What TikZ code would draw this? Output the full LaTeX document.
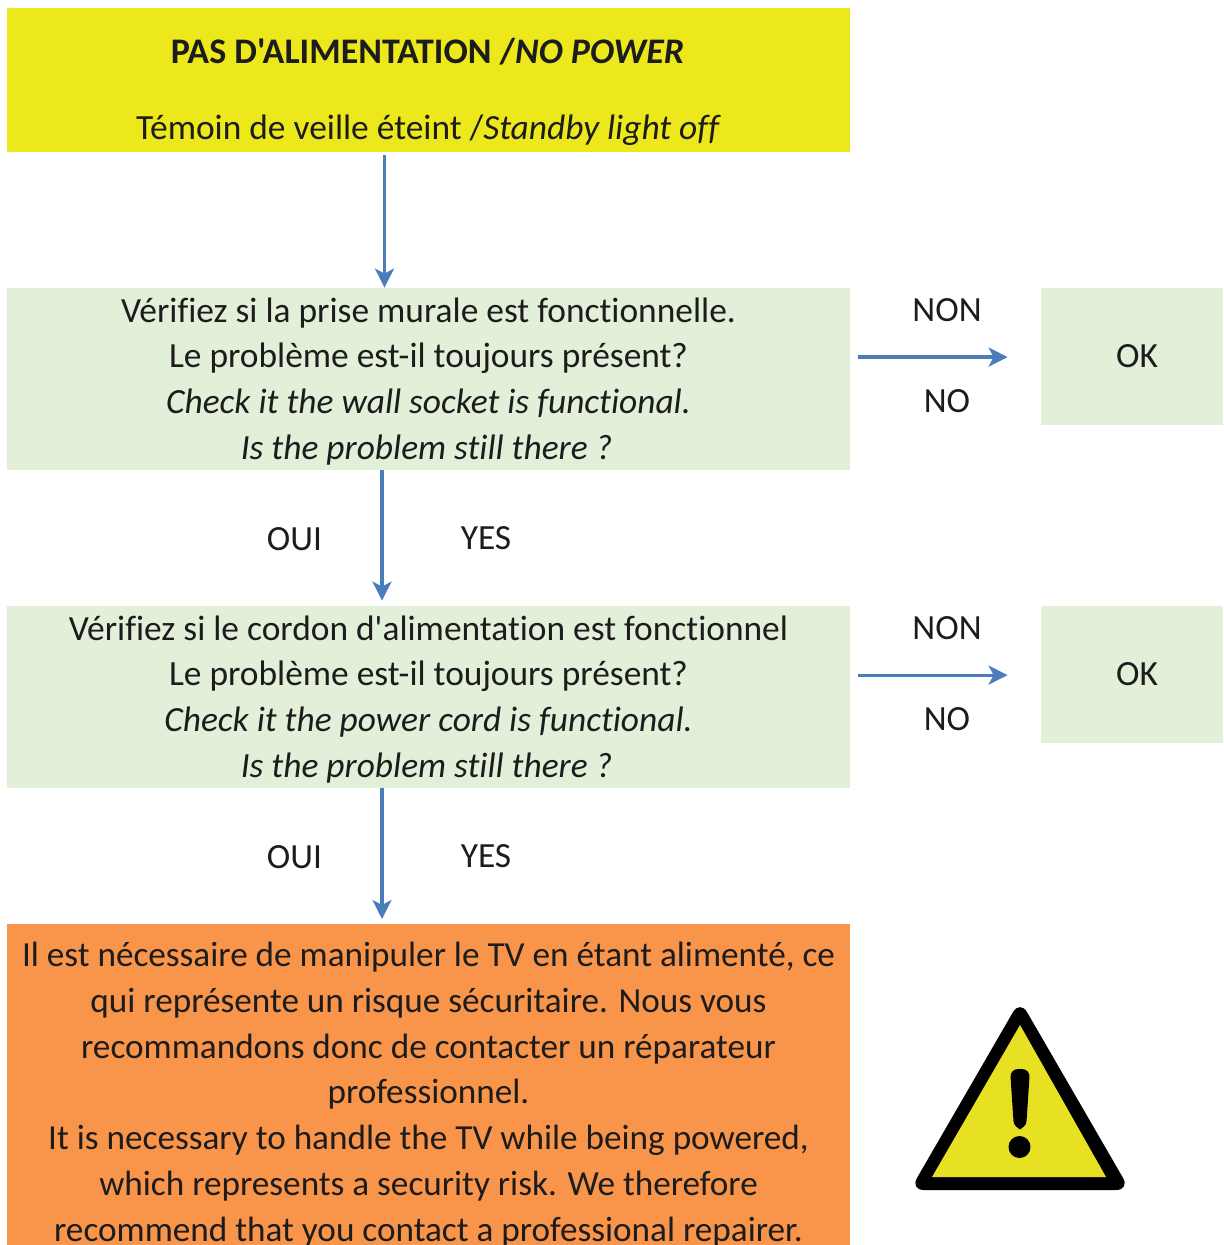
\documentclass[tikz,border=0pt]{standalone}
\usepackage{fontspec}
\setmainfont[Ligatures={TeXOff,NoCommon}]{Carlito}
\usetikzlibrary{arrows.meta}
\definecolor{headyellow}{HTML}{EDE81C}
\definecolor{checkgreen}{HTML}{E2EFD9}
\definecolor{warnorange}{HTML}{F8954A}
\definecolor{flowblue}{HTML}{4A7EBB}
\definecolor{signyellow}{HTML}{E8E022}
\definecolor{inktext}{HTML}{1C1C1C}
\tikzset{
  txt/.style={text=inktext, inner sep=0pt, align=center, font=\fontsize{17.7}{22.85}\selectfont},
  checkbox/.style={txt, fill=checkgreen, minimum width=421.5pt, minimum height=91pt},
  okbox/.style={txt, fill=checkgreen, minimum width=91pt, minimum height=68.5pt},
  flow/.style={-{Stealth[length=9.5pt,width=9.5pt,inset=2.5pt]}, flowblue, line width=1.6pt}
}
\begin{document}
\begin{tikzpicture}[x=0.5pt, y=-0.5pt]
\useasboundingbox (0,0) rectangle (1223,1245);
\clip (0,0) rectangle (1223,1245);

\node[fill=headyellow, minimum width=421.5pt, minimum height=72pt, inner sep=0pt] (head) at (428.5,80) {};
\node[txt] (headtext) at (428.5,92) {{\fontsize{18}{22.85}\selectfont\textbf{PAS D'ALIMENTATION /\textit{NO POWER}}}\hspace*{1pt}\\[15.2pt]
  Témoin de veille éteint /\textit{Standby light off}};

\node[checkbox] (check1) at (428.5,379) {\rule{0pt}{14.5pt}Vérifiez si la prise murale est fonctionnelle.\\
  Le problème est-il toujours présent?\\
  \textit{Check it the wall socket is functional.}\hspace*{6pt}\\
  \textit{Is the problem still there ?}\hspace*{2pt}};
\node[checkbox] (check2) at (428.5,697) {\rule{0pt}{14.5pt}Vérifiez si le cordon d'alimentation est fonctionnel\\
  Le problème est-il toujours présent?\\
  \textit{Check it the power cord is functional.}\hspace*{6pt}\\
  \textit{Is the problem still there ?}\hspace*{2pt}};
\node[okbox] (ok1) at (1132,356.5) {\hspace*{5pt}OK};
\node[okbox] (ok2) at (1132,674.5) {\hspace*{5pt}OK};

\node[txt, fill=warnorange, anchor=north, minimum width=421.5pt, inner ysep=9pt, font=\fontsize{17.6}{22.85}\selectfont] (warn) at (428.5,924) {Il est nécessaire de manipuler le TV en étant alimenté, ce\\
  qui représente un risque sécuritaire. Nous vous\\
  recommandons donc de contacter un réparateur\\
  professionnel.\\
  It is necessary to handle the TV while being powered,\\
  which represents a security risk. We therefore\\
  recommend that you contact a professional repairer.\\
  \strut};

\node[txt] (non1) at (947,310.5) {NON};
\node[txt] (no1) at (947,401) {NO};
\node[txt] (non2) at (947,628.5) {NON};
\node[txt] (no2) at (947,719) {NO};
\node[txt] (oui1) at (294.5,539) {OUI};
\node[txt] (yes1) at (486,538) {YES};
\node[txt] (oui2) at (294.5,857) {OUI};
\node[txt] (yes2) at (486,856) {YES};

\draw[flow] ([shift={(-44,3)}]head.south) -- ([shift={(-44,0)}]check1.north);
\draw[flow] ([shift={(-46.5,0)}]check1.south) -- ([shift={(-46.5,-5)}]check2.north);
\draw[flow] ([shift={(-46.5,0)}]check2.south) -- ([shift={(-46.5,-5)}]warn.north);
\draw[flow] ([xshift=4pt,yshift=-0.3pt]check1.east |- ok1.west) -- ([xshift=-16.5pt,yshift=-0.3pt]ok1.west);
\draw[flow] ([xshift=4pt,yshift=-0.3pt]check2.east |- ok2.west) -- ([xshift=-16.5pt,yshift=-0.3pt]ok2.west);

% warning sign
\fill[black, rounded corners=7pt] (1020,1000) -- (1130,1190) -- (910,1190) -- cycle;
\fill[signyellow] (1020,1025) -- (1106,1177) -- (932,1177) -- cycle;
\fill[black, rounded corners=4pt] (1010,1069) -- (1030,1069) -- (1026,1129) -- (1014,1129) -- cycle;
\fill[black] (1019.5,1147) circle [radius=11];
\end{tikzpicture}
\end{document}
